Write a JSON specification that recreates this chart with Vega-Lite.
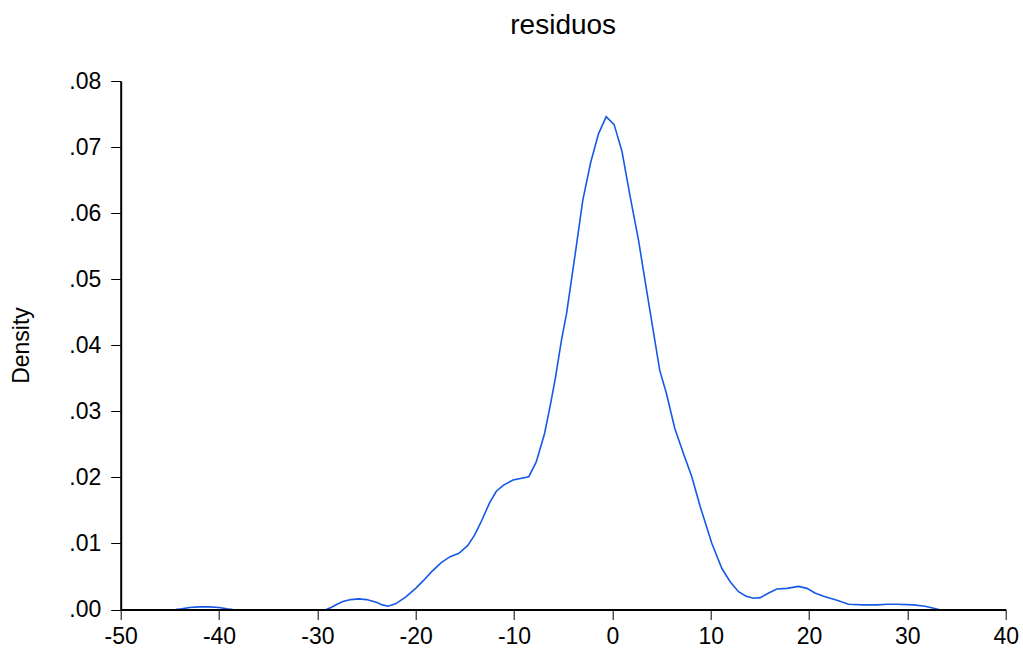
{
  "$schema": "https://vega.github.io/schema/vega-lite/v6.json",
  "width": 885,
  "height": 528.5,
  "autosize": {"type": "none"},
  "padding": {"left": 120.7, "top": 81, "right": 17, "bottom": 40.5},
  "background": "white",
  "title": {
    "text": "residuos",
    "font": "Liberation Sans",
    "fontSize": 28,
    "fontWeight": "normal",
    "color": "black",
    "anchor": "middle",
    "baseline": "alphabetic",
    "offset": 8
  },
  "config": {
    "view": {"stroke": null},
    "axis": {
      "domainColor": "black",
      "domainWidth": 2,
      "tickColor": "black",
      "tickWidth": 1,
      "tickSize": 10,
      "grid": false,
      "labelFont": "Liberation Sans",
      "labelFontSize": 23,
      "labelColor": "black",
      "labelFlush": false,
      "labelOverlap": false,
      "titleFont": "Liberation Sans",
      "titleFontSize": 23,
      "titleFontWeight": "normal",
      "titleColor": "black"
    }
  },
  "data": {
    "values": [
      {"seg": "a", "x": -44.4, "density": 0.0},
      {"seg": "a", "x": -43.8, "density": 0.0001},
      {"seg": "a", "x": -43.0, "density": 0.0003},
      {"seg": "a", "x": -42.0, "density": 0.0004},
      {"seg": "a", "x": -41.0, "density": 0.0004},
      {"seg": "a", "x": -40.0, "density": 0.0003},
      {"seg": "a", "x": -39.2, "density": 0.0001},
      {"seg": "a", "x": -38.6, "density": 0.0},
      {"seg": "b", "x": -29.1, "density": 0.0},
      {"seg": "b", "x": -28.6, "density": 0.0003},
      {"seg": "b", "x": -28.0, "density": 0.0008},
      {"seg": "b", "x": -27.4, "density": 0.0012},
      {"seg": "b", "x": -26.6, "density": 0.0015},
      {"seg": "b", "x": -25.8, "density": 0.0016},
      {"seg": "b", "x": -25.0, "density": 0.0015},
      {"seg": "b", "x": -24.0, "density": 0.0011},
      {"seg": "b", "x": -23.4, "density": 0.0007},
      {"seg": "b", "x": -22.8, "density": 0.0005},
      {"seg": "b", "x": -22.0, "density": 0.0009},
      {"seg": "b", "x": -21.0, "density": 0.0019},
      {"seg": "b", "x": -20.0, "density": 0.0032},
      {"seg": "b", "x": -19.2, "density": 0.0044},
      {"seg": "b", "x": -18.4, "density": 0.0057},
      {"seg": "b", "x": -17.4, "density": 0.0071},
      {"seg": "b", "x": -16.5, "density": 0.0080},
      {"seg": "b", "x": -15.6, "density": 0.0085},
      {"seg": "b", "x": -14.7, "density": 0.0097},
      {"seg": "b", "x": -14.0, "density": 0.0113},
      {"seg": "b", "x": -13.4, "density": 0.0131},
      {"seg": "b", "x": -12.5, "density": 0.0161},
      {"seg": "b", "x": -11.8, "density": 0.0179},
      {"seg": "b", "x": -11.1, "density": 0.0188},
      {"seg": "b", "x": -10.1, "density": 0.0196},
      {"seg": "b", "x": -8.5, "density": 0.0201},
      {"seg": "b", "x": -7.75, "density": 0.0223},
      {"seg": "b", "x": -6.9, "density": 0.0266},
      {"seg": "b", "x": -6.3, "density": 0.0310},
      {"seg": "b", "x": -5.8, "density": 0.0350},
      {"seg": "b", "x": -5.17, "density": 0.0408},
      {"seg": "b", "x": -4.66, "density": 0.0448},
      {"seg": "b", "x": -4.15, "density": 0.0500},
      {"seg": "b", "x": -3.78, "density": 0.0538},
      {"seg": "b", "x": -3.0, "density": 0.0620},
      {"seg": "b", "x": -2.2, "density": 0.0677},
      {"seg": "b", "x": -1.41, "density": 0.0720},
      {"seg": "b", "x": -0.63, "density": 0.0746},
      {"seg": "b", "x": 0.18, "density": 0.0734},
      {"seg": "b", "x": 0.97, "density": 0.0694},
      {"seg": "b", "x": 1.81, "density": 0.0625},
      {"seg": "b", "x": 2.66, "density": 0.0559},
      {"seg": "b", "x": 3.3, "density": 0.0500},
      {"seg": "b", "x": 3.98, "density": 0.0438},
      {"seg": "b", "x": 4.82, "density": 0.0362},
      {"seg": "b", "x": 5.5, "density": 0.0327},
      {"seg": "b", "x": 6.35, "density": 0.0274},
      {"seg": "b", "x": 7.23, "density": 0.0236},
      {"seg": "b", "x": 8.08, "density": 0.0201},
      {"seg": "b", "x": 8.93, "density": 0.0156},
      {"seg": "b", "x": 10.12, "density": 0.0100},
      {"seg": "b", "x": 11.14, "density": 0.0062},
      {"seg": "b", "x": 11.98, "density": 0.0042},
      {"seg": "b", "x": 12.83, "density": 0.0027},
      {"seg": "b", "x": 13.6, "density": 0.0020},
      {"seg": "b", "x": 14.36, "density": 0.0017},
      {"seg": "b", "x": 15.04, "density": 0.0018},
      {"seg": "b", "x": 15.9, "density": 0.0025},
      {"seg": "b", "x": 16.73, "density": 0.0031},
      {"seg": "b", "x": 17.75, "density": 0.0032},
      {"seg": "b", "x": 18.93, "density": 0.0035},
      {"seg": "b", "x": 19.79, "density": 0.0032},
      {"seg": "b", "x": 20.6, "density": 0.0025},
      {"seg": "b", "x": 21.47, "density": 0.0020},
      {"seg": "b", "x": 22.84, "density": 0.0014},
      {"seg": "b", "x": 24.02, "density": 0.0008},
      {"seg": "b", "x": 25.5, "density": 0.0007},
      {"seg": "b", "x": 26.9, "density": 0.0007},
      {"seg": "b", "x": 28.0, "density": 0.0008},
      {"seg": "b", "x": 28.94, "density": 0.0008},
      {"seg": "b", "x": 30.63, "density": 0.0007},
      {"seg": "b", "x": 31.8, "density": 0.0005},
      {"seg": "b", "x": 32.67, "density": 0.0002},
      {"seg": "b", "x": 33.2, "density": 0.0}
    ]
  },
  "mark": {"type": "line", "color": "#1659e6", "strokeWidth": 1.6, "clip": true},
  "encoding": {
    "detail": {"field": "seg", "type": "nominal"},
    "x": {
      "field": "x",
      "type": "quantitative",
      "scale": {"domain": [-50, 40], "nice": false, "zero": false},
      "axis": {
        "title": null,
        "values": [-50, -40, -30, -20, -10, 0, 10, 20, 30, 40],
        "labelExpr": "datum.value + ''",
        "labelPadding": 6,
        "zindex": 1
      }
    },
    "y": {
      "field": "density",
      "type": "quantitative",
      "scale": {"domain": [0, 0.08], "nice": false},
      "axis": {
        "title": "Density",
        "values": [0, 0.01, 0.02, 0.03, 0.04, 0.05, 0.06, 0.07, 0.08],
        "labelExpr": "slice(format(datum.value, '.2f'), 1)",
        "labelPadding": 10,
        "titleAngle": -90,
        "titleX": -99,
        "titleY": 264,
        "titleAlign": "center",
        "titleBaseline": "middle",
        "zindex": 1
      }
    }
  }
}
